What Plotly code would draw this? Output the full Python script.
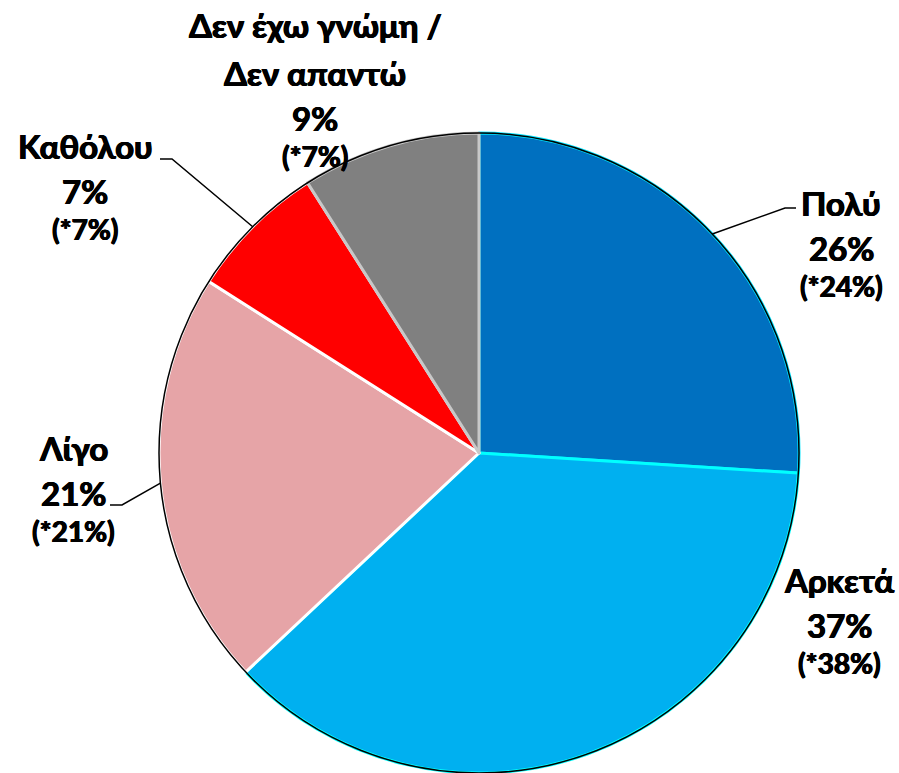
import math
import plotly.graph_objects as go

# ---- data ----
categories = ["Πολύ", "Αρκετά", "Λίγο", "Καθόλου", "Δεν έχω γνώμη / Δεν απαντώ"]
label_lines = [["Πολύ"], ["Αρκετά"], ["Λίγο"], ["Καθόλου"], ["Δεν έχω γνώμη /", "Δεν απαντώ"]]
values = [26, 37, 21, 7, 9]
previous = [24, 38, 21, 7, 7]

# ---- style ----
colors = ["#0070C0", "#00B0F0", "#E6A4A7", "#FF0000", "#808080"]
borders = ["#00E5FF", "#00FFFF", "#FFFFFF", "#FFFFFF", "#C8C8C8"]

W, H = 899, 773
CX, CY, R = 479, 453, 320  # page pixels

def px(x):
    return x / W

def py(y):
    return 1 - y / H

fig = go.Figure()
fig.add_trace(go.Pie(
    labels=categories,
    values=values,
    sort=False,
    direction="clockwise",
    rotation=0,
    textinfo="none",
    hoverinfo="label+percent",
    marker=dict(colors=colors, line=dict(color=borders, width=3)),
    domain=dict(x=[px(CX - R), px(CX + R)], y=[max(0, py(CY + R)), py(CY - R)]),
    showlegend=False,
))

shapes = [dict(type="circle", xref="paper", yref="paper",
               x0=px(CX - R), x1=px(CX + R), y0=py(CY + R), y1=py(CY - R),
               line=dict(color="black", width=1.5))]

# label layout: (center x, first-line center y) in pixels
label_pos = [(841, 203), (839, 580), (73, 448), (85, 146), (315, 25)]
NAME_GAP, PCT_GAP, PAREN_GAP = 48, 45, 38
leaders = [((785, 208), (796, 208)), None, ((122, 505), (110, 505)),
           ((172, 159), (160, 159)), None]

FAM = "Lato, Carlito, Calibri, sans-serif"
THICK = "0.6px 0 0 black, -0.6px 0 0 black, 0 0.4px 0 black"
font_main = dict(family=FAM, size=33, color="black", weight="bold", shadow=THICK)
font_small = dict(family=FAM, size=28, color="black", weight="bold", shadow=THICK)

annotations = []
total = sum(values)
cum = 0
for i, v in enumerate(values):
    mid = (cum + v / 2) / total * 2 * math.pi
    cum += v
    x, y = label_pos[i]
    for j, line in enumerate(label_lines[i]):
        annotations.append(dict(x=px(x), y=py(y + j * NAME_GAP), xref="paper", yref="paper",
                                text=line, showarrow=False, font=font_main,
                                xanchor="center", yanchor="middle"))
    y_pct = y + (len(label_lines[i]) - 1) * NAME_GAP + PCT_GAP
    annotations.append(dict(x=px(x), y=py(y_pct), xref="paper", yref="paper",
                            text=f"{v}%", showarrow=False, font=font_main,
                            xanchor="center", yanchor="middle"))
    annotations.append(dict(x=px(x), y=py(y_pct + PAREN_GAP), xref="paper", yref="paper",
                            text=f"(*{previous[i]}%)", showarrow=False, font=font_small,
                            xanchor="center", yanchor="middle"))
    if leaders[i] is not None:
        sx = CX + R * math.sin(mid)
        sy = CY - R * math.cos(mid)
        (ex, ey), (fx, fy) = leaders[i]
        shapes.append(dict(type="path", xref="paper", yref="paper",
                           path=f"M {px(sx)} {py(sy)} L {px(ex)} {py(ey)} L {px(fx)} {py(fy)}",
                           line=dict(color="black", width=1.5)))

fig.update_layout(
    width=W, height=H,
    margin=dict(l=0, r=0, t=0, b=0),
    paper_bgcolor="white",
    plot_bgcolor="white",
    shapes=shapes,
    annotations=annotations,
)

fig.write_html("out.html", config={"displayModeBar": False},
               post_script="document.body.style.margin='0';document.body.style.overflow='hidden';")
